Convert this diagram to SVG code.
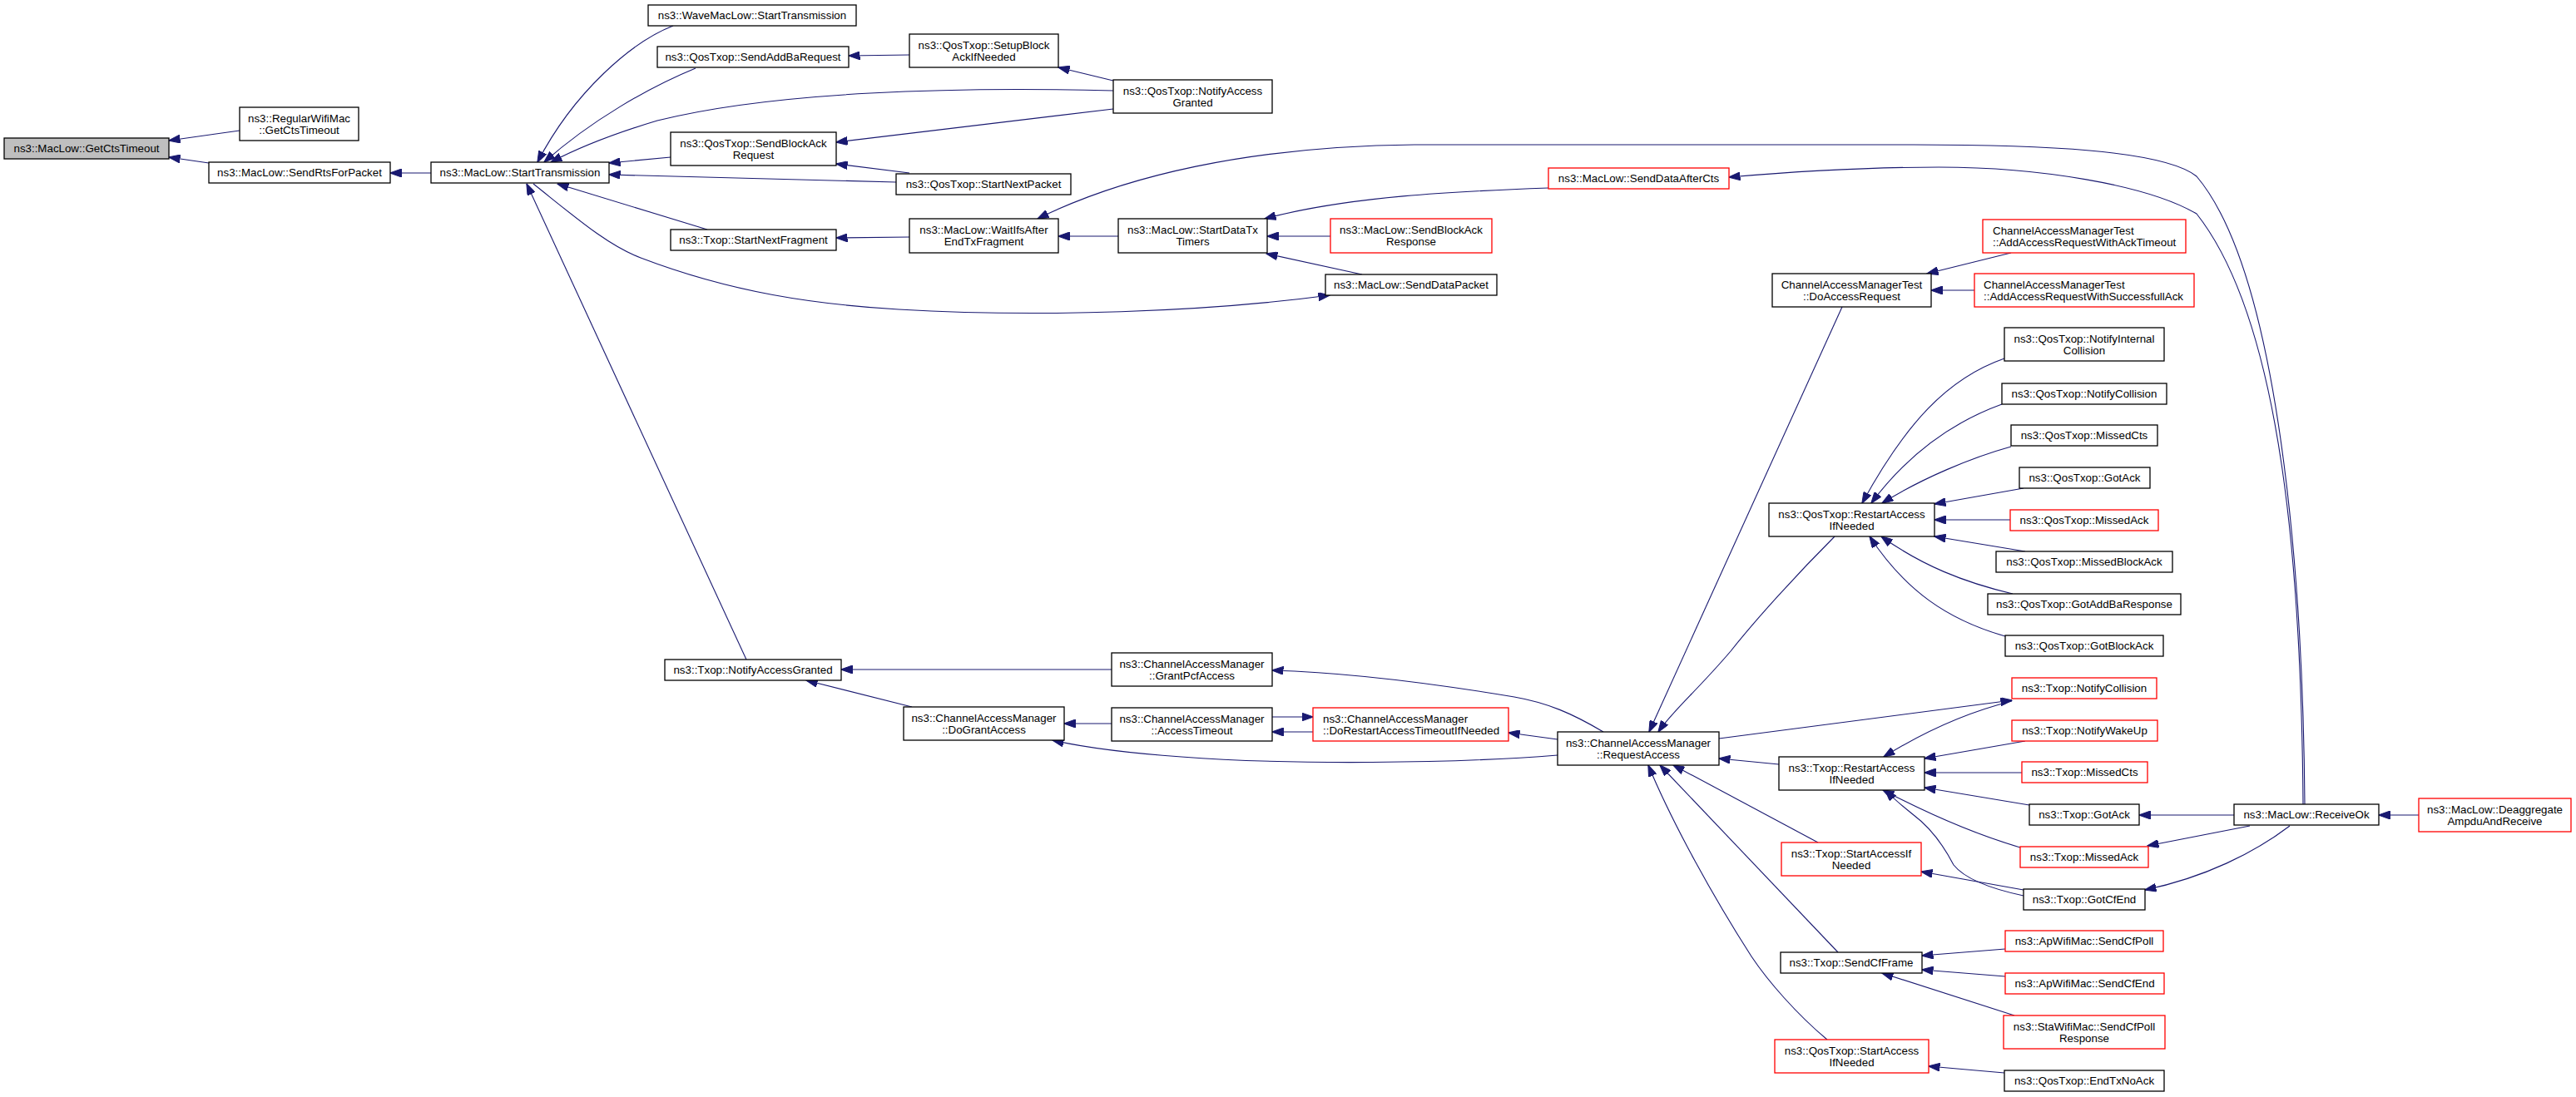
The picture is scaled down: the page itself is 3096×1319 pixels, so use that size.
<svg xmlns="http://www.w3.org/2000/svg" width="3096" height="1319" viewBox="0 0 3096 1319">
<style>
.n rect{fill:#fff;stroke:#000;stroke-width:1.3}
.r rect{stroke:#f00}
.g rect{fill:#bfbfbf}
text{font-family:"Liberation Sans",Arial,Helvetica,sans-serif;font-size:13.33px;fill:#000;text-anchor:middle}
text.l{text-anchor:start}
.e path{fill:none;stroke:#191970;stroke-width:1.1;marker-end:url(#ah)}
</style>
<defs>
<marker id="ah" markerUnits="userSpaceOnUse" markerWidth="14" markerHeight="10" viewBox="0 0 14 10" refX="13.5" refY="5" orient="auto"><path d="M0,0 L14,5 L0,10 z" fill="#191970" stroke="#191970" stroke-width="1"/></marker>
</defs>
<rect x="0" y="0" width="3096" height="1319" fill="#fff"/>
<g id="connectors" class="e">
<path d="M288,157 L203,169"/>
<path d="M251,196 L203,189"/>
<path d="M518,208 L469,208"/>
<path d="M809,31 C760,50 690,110 646,195"/>
<path d="M836,82 C780,105 710,145 654,195"/>
<path d="M1338,109 C1150,104 930,110 790,145 C740,160 700,175 662,195"/>
<path d="M1338,97 L1272,81"/>
<path d="M1338,131 L1005,171"/>
<path d="M1093,66 L1020,67"/>
<path d="M806,189 L732,196"/>
<path d="M1077,219 L732,210"/>
<path d="M1093,208 L1005,197"/>
<path d="M850,276 L670,221"/>
<path d="M1093,285 L1005,286"/>
<path d="M641,221 C690,260 730,295 770,310 C880,352 980,366 1080,372 C1250,382 1450,375 1598,355"/>
<path d="M897,793 L633,221"/>
<path d="M1344,284 L1272,284"/>
<path d="M2770,967 C2768,700 2740,330 2640,212 C2600,180 2450,174 2300,174 L1700,174 C1500,176 1350,212 1247,263"/>
<path d="M1861,226 C1750,230 1620,236 1520,263"/>
<path d="M2768,967 C2766,700 2745,390 2640,257 C2580,222 2450,201 2330,201 C2250,201 2160,206 2078,213"/>
<path d="M1599,284 L1523,284"/>
<path d="M1637,330 L1522,305"/>
<path d="M1336,805 L1011,805"/>
<path d="M1096,850 L969,818"/>
<path d="M1336,870 L1279,870"/>
<path d="M1872,908 C1750,918 1550,920 1420,910 C1350,905 1300,898 1265,890"/>
<path d="M1529,862 L1578,862"/>
<path d="M1578,880 L1529,880"/>
<path d="M1872,889 L1813,881"/>
<path d="M1927,880 C1890,858 1860,845 1820,838 C1700,818 1600,808 1529,806"/>
<path d="M2214,369 L1982,880"/>
<path d="M2205,645 C2160,690 2110,745 2080,783 C2040,830 2010,855 1993,880"/>
<path d="M2066,888 L2418,842"/>
<path d="M2138,919 L2066,912"/>
<path d="M2185,1013 L2011,920"/>
<path d="M2209,1145 L1995,920"/>
<path d="M2196,1250 C2160,1220 2125,1180 2105,1150 C2060,1080 2010,990 1981,920"/>
<path d="M2418,843 C2370,855 2320,875 2264,910"/>
<path d="M2434,891 L2313,912"/>
<path d="M2430,929 L2313,929"/>
<path d="M2439,968 L2313,947"/>
<path d="M2428,1019 C2380,1005 2330,985 2263,950"/>
<path d="M2432,1077 C2390,1068 2360,1055 2348,1040 C2335,1015 2320,995 2300,980 C2285,968 2275,960 2266,950"/>
<path d="M2432,1070 L2309,1048"/>
<path d="M2685,980 L2571,980"/>
<path d="M2704,993 L2581,1017"/>
<path d="M2752,993 C2710,1025 2650,1055 2578,1070"/>
<path d="M2907,980 L2859,980"/>
<path d="M2417,304 L2316,329"/>
<path d="M2373,349 L2321,349"/>
<path d="M2409,431 C2340,455 2290,510 2238,605"/>
<path d="M2406,486 C2340,510 2290,550 2249,605"/>
<path d="M2417,537 C2370,550 2310,575 2262,605"/>
<path d="M2432,587 L2325,606"/>
<path d="M2416,625 L2325,625"/>
<path d="M2434,663 L2325,645"/>
<path d="M2419,714 C2360,700 2310,680 2261,645"/>
<path d="M2410,765 C2340,745 2290,710 2247,645"/>
<path d="M2410,1141 L2310,1149"/>
<path d="M2410,1174 L2310,1166"/>
<path d="M2421,1221 L2262,1170"/>
<path d="M2409,1290 L2318,1282"/>
</g>
<g id="n_getcts" class="n g"><rect x="5" y="166" width="198" height="25"/><text x="104" y="183">ns3::MacLow::GetCtsTimeout</text></g>
<g id="n_regular" class="n"><rect x="288" y="129" width="143" height="40"/><text x="359.5" y="146.5">ns3::RegularWifiMac</text><text x="359.5" y="160.5">::GetCtsTimeout</text></g>
<g id="n_sendrts" class="n"><rect x="251" y="195" width="218" height="25"/><text x="360" y="212">ns3::MacLow::SendRtsForPacket</text></g>
<g id="n_starttx" class="n"><rect x="518" y="195" width="214" height="25"/><text x="625" y="212">ns3::MacLow::StartTransmission</text></g>
<g id="n_wave" class="n"><rect x="779" y="6" width="250" height="25"/><text x="904" y="23">ns3::WaveMacLow::StartTransmission</text></g>
<g id="n_sendaddba" class="n"><rect x="790" y="56" width="230" height="25"/><text x="905" y="73">ns3::QosTxop::SendAddBaRequest</text></g>
<g id="n_setupba" class="n"><rect x="1093" y="41" width="179" height="40"/><text x="1182.5" y="58.5">ns3::QosTxop::SetupBlock</text><text x="1182.5" y="72.5">AckIfNeeded</text></g>
<g id="n_qnag" class="n"><rect x="1338" y="96" width="191" height="40"/><text x="1433.5" y="113.5">ns3::QosTxop::NotifyAccess</text><text x="1433.5" y="127.5">Granted</text></g>
<g id="n_sendbar" class="n"><rect x="806" y="159" width="199" height="40"/><text x="905.5" y="176.5">ns3::QosTxop::SendBlockAck</text><text x="905.5" y="190.5">Request</text></g>
<g id="n_startnp" class="n"><rect x="1077" y="209" width="210" height="25"/><text x="1182" y="226">ns3::QosTxop::StartNextPacket</text></g>
<g id="n_startnf" class="n"><rect x="806" y="276" width="199" height="25"/><text x="905.5" y="293">ns3::Txop::StartNextFragment</text></g>
<g id="n_waitifs" class="n"><rect x="1093" y="263" width="179" height="41"/><text x="1182.5" y="281">ns3::MacLow::WaitIfsAfter</text><text x="1182.5" y="295">EndTxFragment</text></g>
<g id="n_sdtt" class="n"><rect x="1344" y="263" width="179" height="41"/><text x="1433.5" y="281">ns3::MacLow::StartDataTx</text><text x="1433.5" y="295">Timers</text></g>
<g id="n_sbar" class="n r"><rect x="1599" y="263" width="194" height="41"/><text x="1696" y="281">ns3::MacLow::SendBlockAck</text><text x="1696" y="295">Response</text></g>
<g id="n_sdp" class="n"><rect x="1593" y="330" width="206" height="25"/><text x="1696" y="347">ns3::MacLow::SendDataPacket</text></g>
<g id="n_sdac" class="n r"><rect x="1861" y="202" width="217" height="25"/><text x="1969.5" y="219">ns3::MacLow::SendDataAfterCts</text></g>
<g id="n_tnag" class="n"><rect x="799" y="793" width="212" height="25"/><text x="905" y="810">ns3::Txop::NotifyAccessGranted</text></g>
<g id="n_grantpcf" class="n"><rect x="1336" y="785" width="193" height="40"/><text x="1432.5" y="802.5">ns3::ChannelAccessManager</text><text x="1432.5" y="816.5">::GrantPcfAccess</text></g>
<g id="n_dogrant" class="n"><rect x="1086" y="850" width="193" height="40"/><text x="1182.5" y="867.5">ns3::ChannelAccessManager</text><text x="1182.5" y="881.5">::DoGrantAccess</text></g>
<g id="n_acctimeout" class="n"><rect x="1336" y="851" width="193" height="40"/><text x="1432.5" y="868.5">ns3::ChannelAccessManager</text><text x="1432.5" y="882.5">::AccessTimeout</text></g>
<g id="n_dorestart" class="n r"><rect x="1578" y="851" width="235" height="40"/><text class="l" x="1590" y="868.5">ns3::ChannelAccessManager</text><text class="l" x="1590" y="882.5">::DoRestartAccessTimeoutIfNeeded</text></g>
<g id="n_reqacc" class="n"><rect x="1872" y="880" width="194" height="40"/><text x="1969" y="897.5">ns3::ChannelAccessManager</text><text x="1969" y="911.5">::RequestAccess</text></g>
<g id="n_doaccreq" class="n"><rect x="2130" y="329" width="191" height="40"/><text x="2225.5" y="346.5">ChannelAccessManagerTest</text><text x="2225.5" y="360.5">::DoAccessRequest</text></g>
<g id="n_ackto" class="n r"><rect x="2383" y="264" width="244" height="40"/><text class="l" x="2395" y="281.5">ChannelAccessManagerTest</text><text class="l" x="2395" y="295.5">::AddAccessRequestWithAckTimeout</text></g>
<g id="n_succack" class="n r"><rect x="2373" y="329" width="264" height="40"/><text class="l" x="2384" y="346.5">ChannelAccessManagerTest</text><text class="l" x="2384" y="360.5">::AddAccessRequestWithSuccessfullAck</text></g>
<g id="n_qrestart" class="n"><rect x="2126" y="605" width="199" height="40"/><text x="2225.5" y="622.5">ns3::QosTxop::RestartAccess</text><text x="2225.5" y="636.5">IfNeeded</text></g>
<g id="n_qnic" class="n"><rect x="2409" y="394" width="192" height="40"/><text x="2505" y="411.5">ns3::QosTxop::NotifyInternal</text><text x="2505" y="425.5">Collision</text></g>
<g id="n_qnc" class="n"><rect x="2406" y="461" width="198" height="25"/><text x="2505" y="478">ns3::QosTxop::NotifyCollision</text></g>
<g id="n_qmcts" class="n"><rect x="2417" y="511" width="176" height="25"/><text x="2505" y="528">ns3::QosTxop::MissedCts</text></g>
<g id="n_qgotack" class="n"><rect x="2427" y="562" width="157" height="25"/><text x="2505.5" y="579">ns3::QosTxop::GotAck</text></g>
<g id="n_qmissack" class="n r"><rect x="2416" y="613" width="178" height="25"/><text x="2505" y="630">ns3::QosTxop::MissedAck</text></g>
<g id="n_qmba" class="n"><rect x="2399" y="663" width="212" height="25"/><text x="2505" y="680">ns3::QosTxop::MissedBlockAck</text></g>
<g id="n_qgaddba" class="n"><rect x="2389" y="714" width="232" height="25"/><text x="2505" y="731">ns3::QosTxop::GotAddBaResponse</text></g>
<g id="n_qgba" class="n"><rect x="2410" y="764" width="190" height="25"/><text x="2505" y="781">ns3::QosTxop::GotBlockAck</text></g>
<g id="n_tnc" class="n r"><rect x="2418" y="815" width="174" height="25"/><text x="2505" y="832">ns3::Txop::NotifyCollision</text></g>
<g id="n_tnwu" class="n r"><rect x="2418" y="866" width="175" height="25"/><text x="2505.5" y="883">ns3::Txop::NotifyWakeUp</text></g>
<g id="n_tmcts" class="n r"><rect x="2430" y="916" width="151" height="25"/><text x="2505.5" y="933">ns3::Txop::MissedCts</text></g>
<g id="n_tgotack" class="n"><rect x="2439" y="967" width="132" height="25"/><text x="2505" y="984">ns3::Txop::GotAck</text></g>
<g id="n_tmissack" class="n r"><rect x="2428" y="1018" width="154" height="25"/><text x="2505" y="1035">ns3::Txop::MissedAck</text></g>
<g id="n_trestart" class="n"><rect x="2138" y="910" width="175" height="40"/><text x="2225.5" y="927.5">ns3::Txop::RestartAccess</text><text x="2225.5" y="941.5">IfNeeded</text></g>
<g id="n_tstartacc" class="n r"><rect x="2141" y="1013" width="168" height="40"/><text x="2225" y="1030.5">ns3::Txop::StartAccessIf</text><text x="2225" y="1044.5">Needed</text></g>
<g id="n_tgotcfend" class="n"><rect x="2432" y="1069" width="146" height="25"/><text x="2505" y="1086">ns3::Txop::GotCfEnd</text></g>
<g id="n_apcfpoll" class="n r"><rect x="2410" y="1119" width="190" height="25"/><text x="2505" y="1136">ns3::ApWifiMac::SendCfPoll</text></g>
<g id="n_apcfend" class="n r"><rect x="2410" y="1170" width="191" height="25"/><text x="2505.5" y="1187">ns3::ApWifiMac::SendCfEnd</text></g>
<g id="n_stacfpr" class="n r"><rect x="2408" y="1221" width="194" height="40"/><text x="2505" y="1238.5">ns3::StaWifiMac::SendCfPoll</text><text x="2505" y="1252.5">Response</text></g>
<g id="n_tsendcf" class="n"><rect x="2140" y="1145" width="170" height="25"/><text x="2225" y="1162">ns3::Txop::SendCfFrame</text></g>
<g id="n_qstartacc" class="n r"><rect x="2133" y="1250" width="185" height="40"/><text x="2225.5" y="1267.5">ns3::QosTxop::StartAccess</text><text x="2225.5" y="1281.5">IfNeeded</text></g>
<g id="n_qendtx" class="n"><rect x="2409" y="1287" width="192" height="25"/><text x="2505" y="1304">ns3::QosTxop::EndTxNoAck</text></g>
<g id="n_recvok" class="n"><rect x="2685" y="967" width="174" height="25"/><text x="2772" y="984">ns3::MacLow::ReceiveOk</text></g>
<g id="n_deagg" class="n r"><rect x="2907" y="960" width="183" height="40"/><text x="2998.5" y="977.5">ns3::MacLow::Deaggregate</text><text x="2998.5" y="991.5">AmpduAndReceive</text></g>
</svg>
